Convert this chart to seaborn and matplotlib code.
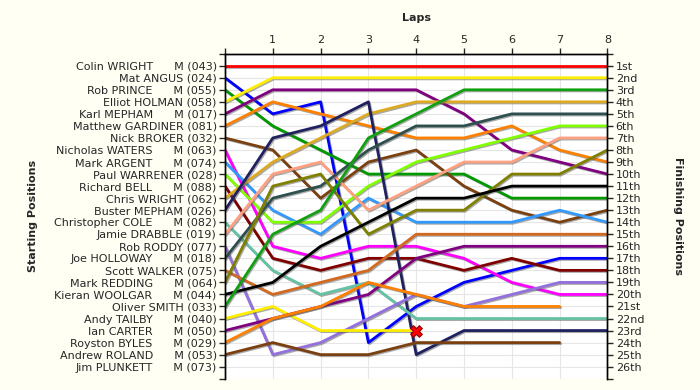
import numpy as np
import pandas as pd
import matplotlib
matplotlib.use('Agg')
import matplotlib.pyplot as plt
import seaborn as sns
from matplotlib import patheffects as pe

# riders in starting order
riders = ['Colin WRIGHT', 'Mat ANGUS', 'Rob PRINCE', 'Elliot HOLMAN', 'Karl MEPHAM',
          'Matthew GARDINER', 'Nick BROKER', 'Nicholas WATERS', 'Mark ARGENT',
          'Paul WARRENER', 'Richard BELL', 'Chris WRIGHT', 'Buster MEPHAM',
          'Christopher COLE', 'Jamie DRABBLE', 'Rob RODDY', 'Joe HOLLOWAY',
          'Scott WALKER', 'Mark REDDING', 'Kieran WOOLGAR', 'Oliver SMITH',
          'Andy TAILBY', 'Ian CARTER', 'Royston BYLES', 'Andrew ROLAND', 'Jim PLUNKETT']
numbers = ['043', '024', '055', '058', '017', '081', '032', '063', '074', '028', '088',
           '062', '026', '082', '019', '077', '018', '075', '064', '044', '033', '040',
           '050', '029', '053', '073']
masters = [1, 0, 1, 0, 1, 0, 0, 1, 1, 0, 1, 0, 0, 1, 0, 0, 1, 0, 1, 1, 0, 1, 1, 1, 1, 1]
colors = ['#ff0000', '#0000ff', '#009900', '#ffee00', '#800080', '#ff8000', '#7a4010',
          '#ff00ff', '#3399ff', '#80ff00', '#800000', '#ddaa22', '#202060', '#66c2a5',
          '#ffa080', '#9370db', '#2f4f4f', '#d2691e', '#808000', '#000000', '#10a010',
          '#ffee00', '#800080', '#ff8000', '#7a4010', '#999999']

# position of each rider at laps 0..8 (None = no longer running)
positions = [
    [1, 1, 1, 1, 1, 1, 1, 1, 1],
    [2, 5, 4, 24, 21, 19, 18, 17, 17],
    [3, 6, 8, 10, 10, 10, 12, 12, 12],
    [4, 2, 2, 2, 2, 2, 2, 2, 2],
    [5, 3, 3, 3, 3, 5, 8, 9, 10],
    [6, 4, 5, 6, 7, 7, 6, 8, 9],
    [7, 8, 12, 9, 8, 11, 13, 14, 13],
    [8, 16, 17, 16, 16, 17, 19, 20, 20],
    [9, 13, 15, 12, 14, 14, 14, 13, 14],
    [10, 14, 14, 11, 9, 8, 7, 6, 6],
    [11, 17, 18, 17, 17, 18, 17, 18, 18],
    [12, 9, 7, 5, 4, 4, 4, 4, 4],
    [13, 7, 6, 4, 25, 23, 23, 23, 23],
    [14, 18, 20, 19, 22, 22, 22, 22, 22],
    [15, 10, 9, 13, 11, 9, 9, 7, 7],
    [16, 25, 24, 22, 20, 21, 20, 19, 19],
    [17, 12, 11, 8, 6, 6, 5, 5, 5],
    [18, 20, 19, 18, 15, 15, 15, 15, 15],
    [19, 11, 10, 15, 13, 13, 10, 10, 8],
    [20, 19, 16, 14, 12, 12, 11, 11, 11],
    [21, 15, 13, 7, 5, 3, 3, 3, 3],
    [22, 21, 23, 23, 23, None, None, None, None],
    [23, 22, 21, 20, 17, 16, 16, 16, 16],
    [24, 22, 21, 19, 20, 21, 21, 21, None],
    [25, 24, 25, 25, 24, 24, 24, 24, None],
    [None] * 9,
]
laps = list(range(9))
finish = ['1st', '2nd', '3rd'] + ['%dth' % i for i in range(4, 21)] + ['21st', '22nd', '23rd', '24th', '25th', '26th']
retired = {'lap': [4], 'pos': [23]}

rows = []
for r, pos in zip(riders, positions):
    for lap, p in zip(laps, pos):
        if p is not None:
            rows.append({'rider': r, 'lap': lap, 'pos': p})
df = pd.DataFrame(rows)

sns.set_style('white')
plt.rcParams['font.family'] = ['DejaVu Sans']
plt.rcParams['font.size'] = 8

fig = plt.figure(figsize=(7, 3.9), dpi=100, facecolor='#fffff4')
ax = fig.add_axes([225 / 700, 1 - 378.7 / 390, (607.4 - 225) / 700, 325 / 390])
ax.set_facecolor('white')

sns.lineplot(data=df, x='lap', y='pos', hue='rider', palette=dict(zip(riders, colors)),
             estimator=None, sort=False, legend=False, linewidth=2, ax=ax)
for line in ax.lines:
    line.set_path_effects([pe.SimpleLineShadow(offset=(0.8, -0.8), shadow_color='#555555', alpha=0.5),
                           pe.Normal()])
sns.scatterplot(x=retired['lap'], y=retired['pos'], marker='X', s=70, color='red',
                edgecolor='#990000', linewidth=0.8, zorder=5, ax=ax)

ax.set_xlim(0, 8)
ax.set_ylim(27, 0)
ax.xaxis.tick_top()
ax.xaxis.set_label_position('top')
ax.set_xticks(laps)
ax.set_xticklabels([''] + [str(l) for l in laps[1:]])
ax.set_xlabel('Laps', fontweight='bold', labelpad=10)
ax.set_yticks(range(28))
ylabels = [''] + ['%s      M (%s)' % (n, num) if m else '%s (%s)' % (n, num)
                  for n, num, m in zip(riders, numbers, masters)] + ['']
ax.set_yticklabels(ylabels)
ax.set_ylabel('Starting Positions', fontweight='bold', labelpad=12)
ax.tick_params(axis='both', length=4, width=1, pad=2, direction='out', left=True, top=True)
ax.grid(True, color='#e6e6e6', linewidth=0.8)
ax.set_axisbelow(True)

ax2 = ax.twinx()
ax2.set_ylim(27, 0)
ax2.set_yticks(range(28))
ax2.set_yticklabels([''] + finish + [''])
ax2.set_ylabel('Finishing Positions', fontweight='bold', rotation=-90, labelpad=28)
ax2.tick_params(axis='y', length=4, width=1, pad=2, direction='out', right=True)

for a in (ax, ax2):
    a.spines['bottom'].set_visible(False)
    for s in ('top', 'left', 'right'):
        a.spines[s].set_color('black')
        a.spines[s].set_linewidth(1)

fig.savefig('out.png', dpi=100, facecolor=fig.get_facecolor())
